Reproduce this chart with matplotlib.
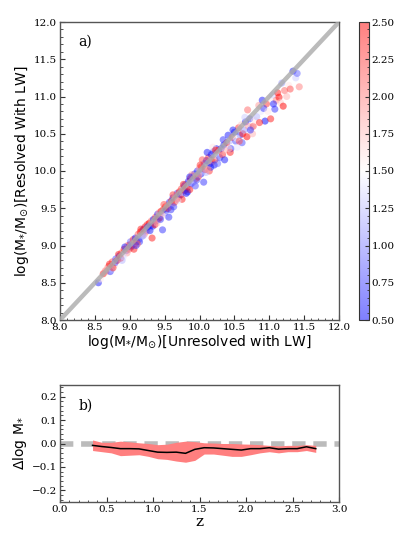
import matplotlib
matplotlib.use("Agg")
import matplotlib.pyplot as plt
from matplotlib.ticker import MultipleLocator, AutoMinorLocator
import numpy as np

# panel a) stellar masses, unresolved vs resolved, coloured by redshift
mass_unres = [
    8.55, 8.62, 8.66, 8.70, 8.72, 8.75, 8.78, 8.80, 8.82, 8.85, 8.88, 8.90, 8.92, 8.95, 8.97,
    9.00, 9.02, 8.68, 8.74, 8.84, 8.93, 8.99, 8.58, 8.79, 8.87, 8.96, 9.01, 8.65, 8.71, 8.91,
    9.03, 9.05, 9.07, 9.08, 9.10, 9.12, 9.13, 9.15, 9.17, 9.18, 9.20, 9.21, 9.22, 9.24, 9.25,
    9.27, 9.28, 9.30, 9.31, 9.32, 9.34, 9.35, 9.37, 9.38, 9.40, 9.41, 9.42, 9.44, 9.45, 9.47,
    9.48, 9.50, 9.51, 9.52, 9.54, 9.55, 9.57, 9.58, 9.60, 9.61, 9.62, 9.64, 9.65, 9.67, 9.68,
    9.70, 9.06, 9.14, 9.23, 9.33, 9.43, 9.53, 9.63, 9.11, 9.26, 9.36, 9.46, 9.56, 9.66, 9.19,
    9.71, 9.73, 9.74, 9.76, 9.78, 9.79, 9.80, 9.82, 9.84, 9.85, 9.87, 9.88, 9.90, 9.92, 9.93,
    9.95, 9.97, 9.98, 10.00, 10.02, 10.03, 10.05, 10.07, 10.08, 10.10, 10.12, 10.13, 10.15, 10.17, 10.18,
    10.20, 10.22, 10.24, 10.25, 10.27, 10.29, 9.75, 9.83, 9.91, 9.99, 10.06, 10.14, 10.21, 10.28, 9.86,
    9.96, 10.04, 10.11, 10.19, 10.26,
    10.31, 10.33, 10.35, 10.37, 10.39, 10.41, 10.43, 10.45, 10.47, 10.50, 10.52, 10.54, 10.56, 10.58, 10.60,
    10.62, 10.64, 10.66, 10.68, 10.70, 10.72, 10.74, 10.77, 10.79, 10.36, 10.44, 10.53, 10.61, 10.69, 10.76,
    10.82, 10.85, 10.88, 10.90, 10.94, 10.96, 11.00, 11.02, 11.05, 11.08, 11.10, 11.12, 11.14, 11.16, 11.18,
    11.20, 11.22, 11.25, 11.28, 11.30, 11.34, 11.38, 11.40, 11.43, 10.92,
    8.76, 8.89, 9.09, 9.16, 9.29, 9.39, 9.49, 9.59, 9.69, 9.77, 9.81, 9.89, 9.94, 10.01, 10.09,
    10.16, 10.23, 10.34, 10.42, 10.48, 10.57, 10.65, 10.73, 10.86, 10.98, 11.06, 9.44, 9.62, 9.86, 10.12,
]
mass_res = [
    8.50, 8.62, 8.65, 8.72, 8.65, 8.78, 8.74, 8.82, 8.80, 8.86, 8.90, 8.87, 8.95, 8.93, 9.00,
    9.01, 8.98, 8.70, 8.68, 8.88, 8.98, 8.95, 8.55, 8.77, 8.83, 8.90, 9.05, 8.66, 8.75, 8.85,
    9.00, 9.08, 9.02, 9.10, 9.05, 9.15, 9.08, 9.18, 9.12, 9.20, 9.22, 9.15, 9.25, 9.20, 9.28,
    9.22, 9.30, 9.27, 9.33, 9.10, 9.35, 9.30, 9.38, 9.33, 9.42, 9.36, 9.44, 9.40, 9.46, 9.21,
    9.48, 9.44, 9.52, 9.47, 9.55, 9.50, 9.58, 9.53, 9.60, 9.55, 9.64, 9.58, 9.66, 9.62, 9.70,
    9.65, 8.95, 9.05, 9.18, 9.26, 9.37, 9.40, 9.52, 9.02, 9.25, 9.28, 9.41, 9.38, 9.60, 9.13,
    9.72, 9.68, 9.76, 9.70, 9.80, 9.74, 9.82, 9.77, 9.86, 9.80, 9.90, 9.83, 9.93, 9.87, 9.96,
    9.90, 10.00, 9.92, 10.04, 9.96, 10.06, 10.00, 10.10, 10.02, 10.14, 10.05, 10.18, 10.10, 10.22, 10.12,
    10.26, 10.15, 10.30, 10.20, 10.28, 10.18, 9.62, 9.72, 9.85, 9.95, 9.85, 10.00, 10.08, 10.25, 9.75,
    9.88, 10.15, 10.25, 10.32, 10.10,
    10.30, 10.22, 10.35, 10.28, 10.38, 10.48, 10.40, 10.30, 10.45, 10.52, 10.40, 10.32, 10.58, 10.48, 10.62,
    10.50, 10.55, 10.66, 10.46, 10.60, 10.70, 10.58, 10.60, 10.68, 10.15, 10.25, 10.44, 10.38, 10.82, 10.50,
    10.73, 10.88, 10.80, 10.95, 10.67, 10.90, 10.98, 10.70, 11.02, 10.83, 10.95, 11.05, 10.99, 10.92, 11.18,
    10.87, 11.08, 11.00, 11.15, 11.10, 11.34, 11.25, 11.31, 11.13, 10.84,
    8.70, 8.80, 9.00, 9.22, 9.20, 9.30, 9.55, 9.48, 9.60, 9.82, 9.70, 9.95, 9.80, 10.08, 9.98,
    10.05, 10.28, 10.42, 10.30, 10.55, 10.40, 10.72, 10.55, 10.65, 10.80, 10.90, 9.35, 9.68, 9.92, 10.02,
]
redshift = [
    0.6, 2.4, 1.9, 2.3, 0.7, 2.2, 1.7, 0.8, 2.5, 0.6, 2.1, 1.3, 2.4, 0.9, 2.0,
    2.3, 0.7, 1.8, 1.2, 2.4, 0.6, 2.2, 1.6, 0.8, 2.5, 1.9, 0.9, 2.0, 2.4, 1.4,
    0.7, 2.3, 1.9, 0.6, 2.5, 2.1, 0.8, 2.4, 1.2, 2.2, 0.6, 1.8, 2.4, 0.9, 2.3,
    1.3, 2.5, 0.7, 2.0, 2.4, 0.6, 1.7, 2.2, 0.8, 0.6, 2.3, 1.9, 1.1, 2.4, 0.7,
    2.2, 0.9, 2.5, 0.6, 1.8, 2.3, 0.7, 2.1, 2.4, 1.2, 0.6, 2.3, 1.6, 2.5, 0.8,
    2.2, 2.4, 0.7, 1.9, 0.6, 2.3, 1.4, 0.8, 2.1, 0.6, 2.4, 1.7, 0.7, 2.2, 1.1,
    2.4, 0.6, 2.2, 1.8, 0.7, 2.5, 0.9, 2.3, 0.6, 1.3, 2.4, 0.8, 2.1, 1.6, 0.6,
    2.3, 0.7, 2.4, 1.9, 0.6, 2.2, 1.2, 0.8, 2.5, 0.6, 1.7, 2.3, 0.7, 0.6, 2.0,
    0.7, 2.4, 0.6, 1.4, 2.2, 0.8, 2.4, 0.6, 1.1, 1.8, 0.7, 2.3, 0.6, 1.3, 2.4,
    0.8, 2.2, 0.6, 1.6, 0.9,
    0.7, 2.3, 0.6, 1.8, 2.4, 0.6, 1.2, 0.7, 2.2, 0.6, 0.8, 1.4, 2.3, 0.7, 1.7,
    2.4, 1.1, 0.6, 2.5, 1.9, 0.7, 1.3, 2.2, 1.6, 0.6, 2.4, 1.5, 0.8, 2.1, 1.8,
    1.2, 1.9, 1.4, 0.6, 0.5, 2.3, 1.6, 2.4, 1.3, 0.7, 2.0, 2.4, 2.5, 1.7, 1.1,
    2.5, 2.1, 1.8, 1.6, 2.2, 0.6, 1.3, 0.9, 2.0, 0.7,
    2.3, 1.2, 0.7, 2.4, 0.6, 1.8, 2.2, 0.7, 1.4, 2.4, 0.6, 1.9, 0.8, 2.3, 1.2,
    0.6, 2.4, 0.7, 1.7, 0.6, 2.2, 1.3, 0.7, 2.4, 1.6, 0.6, 0.7, 2.3, 0.6, 1.9,
]

# panel b) median offset vs redshift with scatter band
z_bins = [0.35, 0.45, 0.55, 0.65, 0.75, 0.85, 0.95, 1.05, 1.15, 1.25, 1.35, 1.45, 1.55,
          1.65, 1.75, 1.85, 1.95, 2.05, 2.15, 2.25, 2.35, 2.45, 2.55, 2.65, 2.75]
dm_median = [-0.008, -0.013, -0.017, -0.022, -0.022, -0.023, -0.030, -0.037, -0.038, -0.037,
             -0.042, -0.025, -0.018, -0.019, -0.022, -0.025, -0.028, -0.022, -0.022, -0.018,
             -0.024, -0.022, -0.022, -0.014, -0.022]
dm_upper = [0.015, 0.005, 0.005, 0.010, 0.007, 0.003, 0.000, -0.005, -0.003, 0.005,
            0.010, 0.008, 0.003, 0.002, 0.000, 0.000, -0.002, -0.003, -0.005, -0.008,
            -0.010, -0.008, -0.008, -0.005, -0.008]
dm_lower = [-0.030, -0.035, -0.040, -0.052, -0.050, -0.048, -0.055, -0.065, -0.068, -0.075,
            -0.080, -0.072, -0.045, -0.045, -0.050, -0.055, -0.055, -0.048, -0.040, -0.035,
            -0.040, -0.035, -0.035, -0.030, -0.038]

plt.rcParams['font.family'] = 'DejaVu Serif'
plt.rcParams['mathtext.fontset'] = 'dejavusans'

fig = plt.figure(figsize=(3.99, 5.40), dpi=100)
ax1 = fig.add_axes([60/399, 1-320/540, 279/399, 298/540])
cax = fig.add_axes([359/399, 1-320/540, 10/399, 298/540])
ax2 = fig.add_axes([60/399, 1-502/540, 279/399, 117/540])

spine_col = '#555555'

sc = ax1.scatter(mass_unres, mass_res, c=redshift, cmap='bwr', vmin=0.5, vmax=2.5,
                 s=26, alpha=0.5, edgecolors='none', zorder=2)
ax1.plot([8, 12], [8, 12], color='#aaaaaa', lw=3.2, alpha=0.8, zorder=3)
ax1.set_xlim(8, 12)
ax1.set_ylim(8, 12)
ax1.xaxis.set_major_locator(MultipleLocator(0.5))
ax1.yaxis.set_major_locator(MultipleLocator(0.5))
ax1.xaxis.set_minor_locator(AutoMinorLocator(5))
ax1.yaxis.set_minor_locator(AutoMinorLocator(5))
ax1.set_xlabel(r'log(M$_{*}$/M$_{\odot}$)[Unresolved with LW]', family='DejaVu Sans', fontsize=10, labelpad=1)
ax1.set_ylabel(r'log(M$_{*}$/M$_{\odot}$)[Resolved With LW]', family='DejaVu Sans', fontsize=10, labelpad=2)
ax1.text(0.065, 0.935, 'a)', transform=ax1.transAxes, fontsize=10, va='center')

cb = fig.colorbar(sc, cax=cax)
cb.solids.set_alpha(0.5)
cb.set_ticks(np.arange(0.5, 2.51, 0.25))
cb.ax.yaxis.set_minor_locator(AutoMinorLocator(5))
cb.ax.tick_params(which='both', direction='in', labelsize=7.5, color='#333333', pad=2)
cb.ax.tick_params(which='major', length=3)
cb.ax.tick_params(which='minor', length=1.5)
cb.outline.set_edgecolor('#333333')
cb.outline.set_linewidth(0.8)

ax2.fill_between(z_bins, dm_lower, dm_upper, color='#ff7f7f', lw=0, zorder=2)
ax2.plot(z_bins, dm_median, color='black', lw=1.1, zorder=3)
ax2.axhline(0, color='#aaaaaa', lw=4, ls=(0, (2.4, 1.4)), alpha=0.8, zorder=1)
ax2.set_xlim(0, 3)
ax2.set_ylim(-0.25, 0.25)
ax2.xaxis.set_major_locator(MultipleLocator(0.5))
ax2.yaxis.set_major_locator(MultipleLocator(0.1))
ax2.xaxis.set_minor_locator(AutoMinorLocator(5))
ax2.yaxis.set_minor_locator(AutoMinorLocator(5))
ax2.set_xlabel('z', fontsize=11, labelpad=1)
ax2.set_ylabel(r'$\Delta$log M$_{*}$', family='DejaVu Sans', fontsize=10, labelpad=2)
ax2.text(0.065, 0.82, 'b)', transform=ax2.transAxes, fontsize=10, va='center')

for ax in (ax1, ax2):
    for sp in ax.spines.values():
        sp.set_color(spine_col)
        sp.set_linewidth(1.0)
    ax.tick_params(which='both', direction='in', top=False, right=False,
                   labelsize=7.5, color='#333333', pad=2)
    ax.tick_params(which='major', length=3.5)
    ax.tick_params(which='minor', length=1.8)

fig.savefig('out.png', dpi=100)
